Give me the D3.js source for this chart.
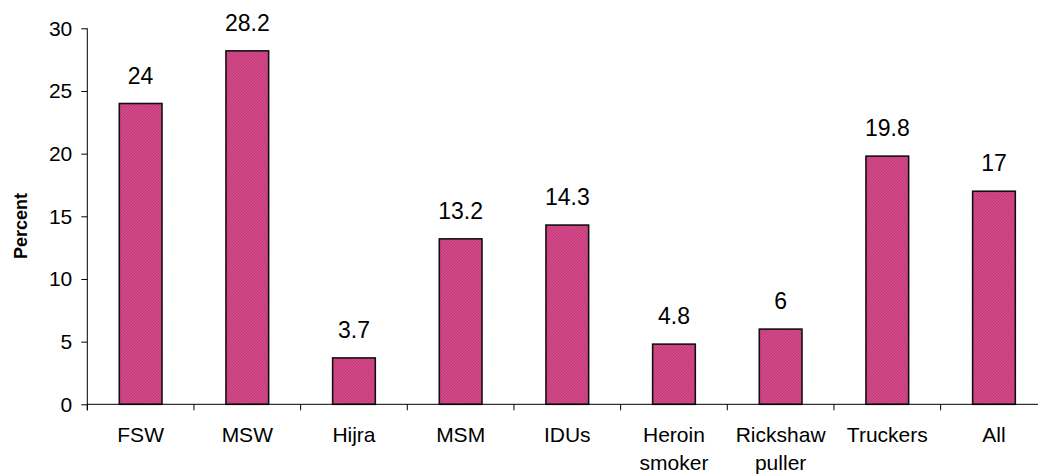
<!DOCTYPE html>
<html>
<head>
<meta charset="utf-8">
<script src="https://cdn.jsdelivr.net/npm/d3@7"></script>
<style>
  html, body { margin: 0; padding: 0; background: #fff; }
  svg { display: block; font-family: "Liberation Sans", Arial, sans-serif; }
</style>
</head>
<body>
<svg id="chart" width="1038" height="476"></svg>
<script>
const categories = [["FSW"], ["MSW"], ["Hijra"], ["MSM"], ["IDUs"], ["Heroin", "smoker"], ["Rickshaw", "puller"], ["Truckers"], ["All"]];
const values = [24, 28.2, 3.7, 13.2, 14.3, 4.8, 6, 19.8, 17];
const valueLabels = ["24", "28.2", "3.7", "13.2", "14.3", "4.8", "6", "19.8", "17"];
const yTicks = [0, 5, 10, 15, 20, 25, 30];
const yTitle = "Percent";

const svg = d3.select("#chart");
const keys = categories.map(c => c.join(" "));

const x = d3.scaleBand().domain(keys).range([87.3, 1047.3]).paddingInner(0.6).paddingOuter(0.3);
const y = d3.scaleLinear().domain([0, 30]).range([404.3, 28.3]);

// hatch pattern
const defs = svg.append("defs");
const pat = defs.append("pattern").attr("id", "hatch").attr("patternUnits", "userSpaceOnUse")
  .attr("width", 3).attr("height", 3);
pat.append("rect").attr("width", 3).attr("height", 3).attr("fill", "#d4478a");
pat.append("path").attr("d", "M0,3 L3,0").attr("stroke", "#b93a6f").attr("stroke-width", 0.8);

// bars
svg.selectAll("rect.bar").data(values).enter().append("rect")
  .attr("class", "bar")
  .attr("x", (d, i) => x(keys[i]))
  .attr("y", d => y(d))
  .attr("width", x.bandwidth())
  .attr("height", d => y(0) - y(d))
  .attr("fill", "url(#hatch)")
  .attr("stroke", "#111")
  .attr("stroke-width", 1.6);

// value labels
svg.selectAll("text.val").data(values).enter().append("text")
  .attr("class", "val")
  .attr("x", (d, i) => x(keys[i]) + x.bandwidth() / 2)
  .attr("y", d => y(d) - 20)
  .attr("text-anchor", "middle")
  .attr("font-size", 23)
  .attr("fill", "#000")
  .text((d, i) => valueLabels[i]);

// y axis
const yAxis = svg.append("g").attr("transform", "translate(87.3,0)")
  .call(d3.axisLeft(y).tickValues(yTicks).tickSize(6).tickPadding(9).tickSizeOuter(0));
yAxis.selectAll("text").attr("font-size", 21).attr("font-family", "Liberation Sans, Arial, sans-serif").attr("fill", "#000");
yAxis.select(".domain").remove();
yAxis.selectAll("line").attr("stroke", "#000");
svg.append("line").attr("x1", 87.3).attr("x2", 87.3).attr("y1", y(30)).attr("y2", y(0) + 6)
  .attr("stroke", "#000").attr("stroke-width", 1);

// x axis
svg.append("line").attr("x1", 87.3).attr("x2", 1047.3).attr("y1", y(0)).attr("y2", y(0))
  .attr("stroke", "#000").attr("stroke-width", 1);
const step = x.step();
const half = (step - x.bandwidth()) / 2;
const boundaries = keys.map(k => x(k) - half).concat([x(keys[keys.length - 1]) + x.bandwidth() + half]);
svg.selectAll("line.xtick").data(boundaries).enter().append("line")
  .attr("class", "xtick")
  .attr("x1", d => d).attr("x2", d => d)
  .attr("y1", y(0)).attr("y2", y(0) + 6)
  .attr("stroke", "#000");

// category labels
const cat = svg.selectAll("text.cat").data(categories).enter().append("text")
  .attr("class", "cat")
  .attr("x", (d, i) => x(keys[i]) + x.bandwidth() / 2)
  .attr("y", 441.5)
  .attr("text-anchor", "middle")
  .attr("font-size", 21)
  .attr("fill", "#000");
cat.each(function(d, i) {
  const t = d3.select(this);
  const cx = x(keys[i]) + x.bandwidth() / 2;
  d.forEach((line, j) => {
    t.append("tspan").attr("x", cx).attr("dy", j === 0 ? 0 : 28).text(line);
  });
});

// y title
svg.append("text")
  .attr("transform", "translate(26.5,226) rotate(-90)")
  .attr("text-anchor", "middle")
  .attr("font-size", 18)
  .attr("font-weight", "bold")
  .attr("fill", "#000")
  .text(yTitle);
</script>
</body>
</html>
